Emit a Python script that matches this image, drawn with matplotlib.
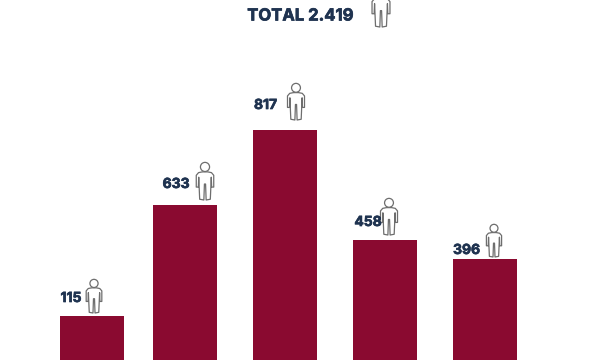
import matplotlib
matplotlib.use("Agg")
import matplotlib.pyplot as plt
import matplotlib.patheffects as pe
from matplotlib.patches import Circle, PathPatch
from matplotlib.path import Path

# Labels as printed, bar heights (not proportional to labels)
labels = ["115", "633", "817", "458", "396"]
bar_heights = [44, 155, 230, 120, 101]
total_label = "TOTAL 2.419"

NAVY = "#1f3350"
WINE = "#8a0a30"
GREY = "#6e6e6e"

plt.rcParams["font.family"] = ["Inter", "DejaVu Sans"]


def person(ax, cx, top, h):
    # little outlined figure, h tall, top is the pixel y of the head
    base = top + h
    body = [(-0.07, 0.74), (0.07, 0.74), (0.17, 0.72), (0.23, 0.65), (0.23, 0.34),
            (0.175, 0.34), (0.165, 0.60), (0.14, 0.02), (0.03, 0.0), (0.015, 0.42),
            (-0.015, 0.42), (-0.03, 0.0), (-0.14, 0.02), (-0.165, 0.60), (-0.175, 0.34),
            (-0.23, 0.34), (-0.23, 0.65), (-0.17, 0.72), (-0.07, 0.74)]
    verts = [(cx + x * h, base - y * h) for x, y in body]
    codes = [Path.MOVETO] + [Path.LINETO] * (len(verts) - 1)
    ax.add_patch(PathPatch(Path(verts, codes), fc="white", ec=GREY, lw=0.9, joinstyle="round"))
    ax.add_patch(Circle((cx, top + 0.13 * h), 0.12 * h, fc="white", ec=GREY, lw=0.9))


fig = plt.figure(figsize=(6, 3.6), dpi=100)
ax = fig.add_axes([0, 0, 1, 1])
ax.set_xlim(0, 600)
ax.set_ylim(360, 0)
ax.axis("off")

bar_centers = [92, 184.5, 285, 385, 485]
ax.bar(bar_centers, bar_heights, width=64, bottom=[360 - h for h in bar_heights], color=WINE)

# value labels and figures
heavy = [pe.withStroke(linewidth=0.5, foreground=NAVY)]
label_x = [71, 176, 265.5, 368, 466.5]
label_y = [298, 184, 105, 222, 250]
icons = [(94, 279, 34), (205, 162, 38), (296, 83, 37), (389, 198, 37), (494, 224, 33)]
for lab, x, y in zip(labels, label_x, label_y):
    ax.text(x, y, lab, color=NAVY, fontsize=10, fontweight="bold", ha="center", va="center",
            path_effects=heavy)
for cx, top, h in icons:
    person(ax, cx, top, h)

ax.text(300.5, 16, total_label, color=NAVY, fontsize=12, fontweight="bold", ha="center", va="center",
        path_effects=heavy)
person(ax, 381, -12, 39)

fig.savefig("out.png", dpi=100)
